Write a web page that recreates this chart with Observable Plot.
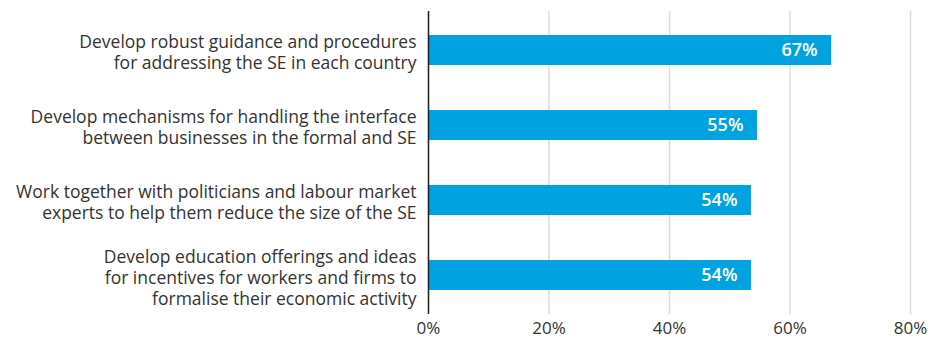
<!DOCTYPE html>
<html>
<head>
<meta charset="utf-8">
<script src="https://cdn.jsdelivr.net/npm/d3@7"></script>
<script src="https://cdn.jsdelivr.net/npm/@observablehq/plot@0.6"></script>
<style>
  html, body { margin: 0; padding: 0; background: #fff; }
  #chart { width: 943px; height: 340px; }
  svg { font-family: "Open Sans", Lato, sans-serif; }
</style>
</head>
<body>
<div id="chart"></div>
<script>
const categories = [
  "Develop robust guidance and procedures\nfor addressing the SE in each country",
  "Develop mechanisms for handling the interface\nbetween businesses in the formal and SE",
  "Work together with politicians and labour market\nexperts to help them reduce the size of the SE",
  "Develop education offerings and ideas\nfor incentives for workers and firms to\nformalise their economic activity"
];
const values = [66.9, 54.6, 53.6, 53.6];
const xTicks = [0, 20, 40, 60, 80];

const data = categories.map((c, i) => ({category: c, value: values[i]}));

const chart = Plot.plot({
  width: 943,
  height: 340,
  marginLeft: 428,
  marginRight: 33,
  marginTop: 11,
  marginBottom: 26,
  style: {fontFamily: "'Open Sans', Lato, sans-serif", fontSize: "16px", color: "#333", background: "#fff"},
  x: {domain: [0, 80], ticks: xTicks, tickFormat: d => d + "%", label: null},
  y: {domain: categories, paddingInner: 0.6, paddingOuter: 0.3, label: null},
  marks: [
    Plot.gridX(xTicks, {stroke: "#dcdcdc", strokeOpacity: 1, strokeWidth: 1.5}),
    Plot.barX(data, {x: "value", y: "category", fill: "#00a3e0"}),
    Plot.text(data, {
      x: "value", y: "category",
      text: d => Math.round(d.value) + "%",
      textAnchor: "end", dx: -14, fill: "#fff",
      fontSize: 18, fontWeight: 600
    }),
    Plot.ruleX([0], {stroke: "#222", strokeWidth: 1.5}),
    Plot.axisX(xTicks, {tickSize: 0, tickPadding: 7, tickFormat: d => d + "%", fontSize: 17, fill: "#333", label: null}),
    Plot.axisY({tickSize: 0, tickPadding: 12, dy: 1.5, fontSize: 17.5, fill: "#333", lineHeight: 1.21, lineWidth: 60, label: null})
  ]
});
document.getElementById("chart").appendChild(chart);
</script>
</body>
</html>
